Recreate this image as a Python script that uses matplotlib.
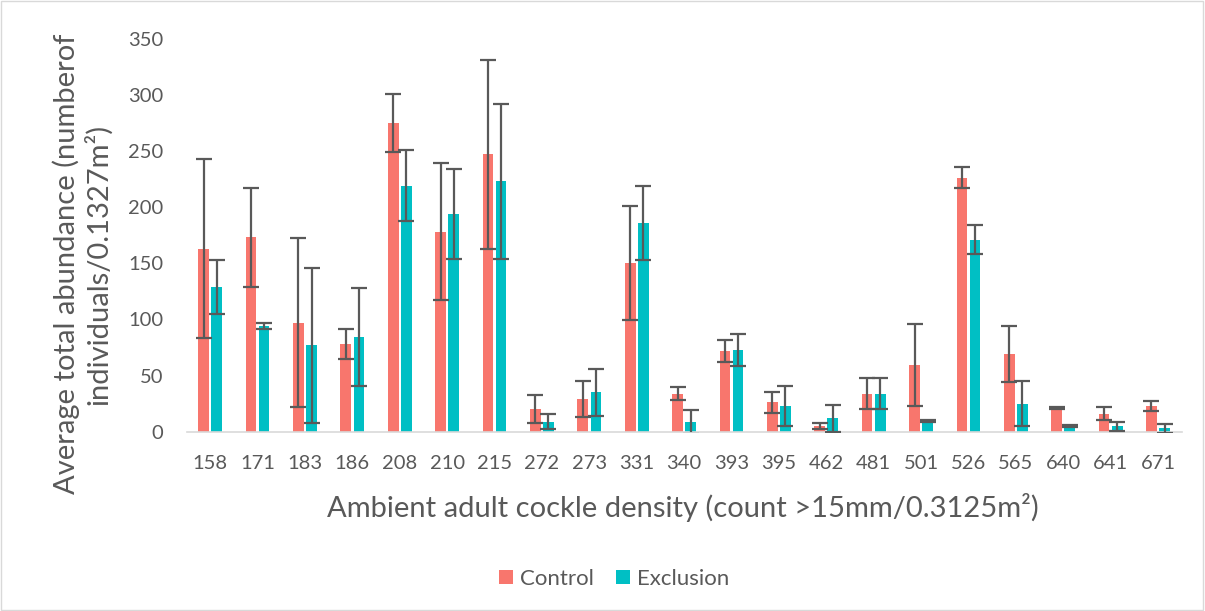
import matplotlib
matplotlib.use("Agg")
import matplotlib.pyplot as plt
import numpy as np

categories = ["158", "171", "183", "186", "208", "210", "215", "272", "273", "331", "340",
              "393", "395", "462", "481", "501", "526", "565", "640", "641", "671"]
control = [163, 173, 97, 78, 275, 178, 247, 20, 29, 150, 34, 72, 26, 5, 34, 59, 226, 69, 21, 16, 23]
control_err = [80, 44, 75, 13, 26, 61, 84, 12.6, 16, 51, 6, 10, 9.6, 2.7, 14, 36.5, 9.5, 24.7, 1.2, 6, 4.6]
exclusion = [129, 94, 77, 84, 219, 194, 223, 9, 35, 186, 9, 73, 23, 12, 34, 9.5, 171, 25, 5, 5, 3]
exclusion_err = [24, 3, 69, 43.5, 31.6, 40, 69, 6.4, 21, 33, 10.7, 14.2, 17.8, 12, 14, 1, 12.6, 20.3, 0.8, 4, 4]

red = "#F8766D"
teal = "#00BFC4"
txt = "#595959"

plt.rcParams['font.family'] = ['Lato', 'DejaVu Sans']

fig = plt.figure(figsize=(12.05, 6.11), dpi=100)
ax = fig.add_axes([186.5/1205, 1-431.7/611, (1181.7-186.5)/1205, (431.7-38.5)/611])

x = np.arange(len(categories))
w = 0.226
off = 0.138
ax.bar(x - off, control, w, color=red, label="Control", zorder=2)
ax.bar(x + off, exclusion, w, color=teal, label="Exclusion", zorder=2)
ekw = dict(fmt="none", ecolor="#595959", elinewidth=1.6, capsize=5.5, capthick=1.6, zorder=3)
ax.errorbar(x - off, control, yerr=control_err, **ekw)
ax.errorbar(x + off, exclusion, yerr=exclusion_err, **ekw)

ax.set_xlim(-0.5, len(categories) - 0.5)
ax.set_ylim(0, 350)
ax.set_yticks(np.arange(0, 351, 50))
ax.set_xticks(x)
ax.set_xticklabels(categories)
for s in ["top", "right", "left"]:
    ax.spines[s].set_visible(False)
ax.spines["bottom"].set_color("#D9D9D9")
ax.spines["bottom"].set_linewidth(1.2)
ax.tick_params(axis="both", length=0, labelsize=14.5, colors=txt)
ax.tick_params(axis="y", pad=16.5)
ax.tick_params(axis="x", pad=17)

fig.text(683/1205, 1-507/611, "Ambient adult cockle density (count >15mm/0.3125m²)",
         ha="center", va="center", fontsize=21, color=txt)
fig.text(82/1205, 1-264/611, "Average total abundance (numberof\nindividuals/0.1327m²)",
         ha="center", va="center", rotation=90, fontsize=21, color=txt,
         multialignment="center", linespacing=1.15)

leg = fig.legend(loc="center", bbox_to_anchor=(614/1205, 1-579/611), ncol=2, frameon=False,
                 fontsize=16, handlelength=0.63, handleheight=0.63, handletextpad=0.3,
                 columnspacing=1.0, labelcolor=txt)

fig.patches.append(plt.Rectangle((0.001, 0.002), 0.997, 0.996, transform=fig.transFigure,
                                 fill=False, edgecolor="#D9D9D9", linewidth=1))

fig.savefig("out.png", dpi=100)
